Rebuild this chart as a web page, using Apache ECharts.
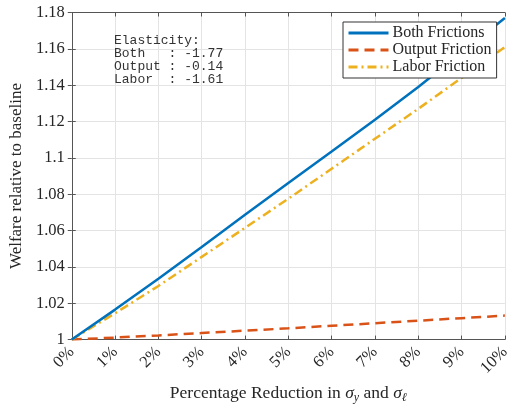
<!DOCTYPE html>
<html><head><meta charset="utf-8">
<script src="https://cdn.jsdelivr.net/npm/echarts@6/dist/echarts.min.js"></script>
<style>html,body{margin:0;padding:0;background:#fff}#c{width:513px;height:409px}</style>
</head><body><div id="c"></div>
<script>
var reductions = [0,1,2,3,4,5,6,7,8,9,10];
var bothFrictions = [1.0, 1.0165, 1.0335, 1.051, 1.0687, 1.0862, 1.1035, 1.121, 1.139, 1.158, 1.177];
var outputFriction = [1.0, 1.0011, 1.0023, 1.0036, 1.0049, 1.0062, 1.0076, 1.009, 1.0104, 1.0118, 1.0132];
var laborFriction = [1.0, 1.0145, 1.0295, 1.0455, 1.0615, 1.0775, 1.094, 1.1105, 1.127, 1.144, 1.161];
var seriesNames = ['Both Frictions','Output Friction','Labor Friction'];
var elasticityLabels = ['Both  ','Output','Labor '];
var elasticityValues = ['-1.77','-0.14','-1.61'];

function pairs(ys){ return reductions.map(function(x,i){return [x, ys[i]];}); }
var serif = '"Liberation Serif", "DejaVu Serif", serif';
var axisCol = '#555', txtCol = '#262626', gridCol = '#e4e4e4';
var elasticityText = 'Elasticity:\n' + elasticityLabels.map(function(l,i){return l + ' : ' + elasticityValues[i];}).join('\n');

var chart = echarts.init(document.getElementById('c'), null, {renderer:'canvas'});
var grid = {left:69, right:8, top:12.5, bottom:66, containLabel:false};
chart.setOption({
  backgroundColor:'#fff',
  animation:false,
  grid: grid,
  xAxis: [{
    type:'value', min:0, max:10, interval:1,
    name:'Percentage Reduction in {s|σ}{sub|y} and {s|σ}{sub|ℓ}',
    nameLocation:'middle', nameGap:34,
    nameTextStyle:{fontFamily:serif, fontSize:17.5, color:txtCol,
      rich:{s:{fontFamily:serif,fontSize:17.5,fontStyle:'italic',color:txtCol},
            sub:{fontFamily:serif,fontSize:12,fontStyle:'italic',color:txtCol,padding:[10,0,0,0]}}},
    axisLine:{show:true, lineStyle:{color:axisCol, width:1}},
    axisTick:{show:true, inside:true, length:4, lineStyle:{color:axisCol}},
    axisLabel:{formatter:'{value}%', rotate:45, fontFamily:serif, fontSize:16.5, color:txtCol, margin:10},
    splitLine:{show:true, lineStyle:{color:gridCol, width:1}}
  },{
    type:'value', min:0, max:10, interval:1, position:'top',
    axisLine:{show:true, lineStyle:{color:axisCol, width:1}},
    axisTick:{show:true, inside:true, length:4, lineStyle:{color:axisCol}},
    axisLabel:{show:false}, splitLine:{show:false}
  }],
  yAxis: [{
    type:'value', min:1, max:1.18, interval:0.02,
    name:'Welfare relative to baseline', nameLocation:'middle', nameGap:40,
    nameTextStyle:{fontFamily:serif, fontSize:17, color:txtCol},
    axisLine:{show:true, lineStyle:{color:axisCol, width:1}},
    axisTick:{show:true, inside:true, length:4, lineStyle:{color:axisCol}},
    axisLabel:{fontFamily:serif, fontSize:16.5, color:txtCol, margin:7,
      formatter:function(v){return String(Math.round(v*100)/100);}},
    splitLine:{show:true, lineStyle:{color:gridCol, width:1}}
  },{
    type:'value', min:1, max:1.18, interval:0.02, position:'right',
    axisLine:{show:true, lineStyle:{color:axisCol, width:1}},
    axisTick:{show:true, inside:true, length:4, lineStyle:{color:axisCol}},
    axisLabel:{show:false}, splitLine:{show:false}
  }],
  legend: {
    orient:'vertical', left:343, top:22,
    data: seriesNames,
    backgroundColor:'#fff', borderColor:'#333', borderWidth:1,
    padding:[3,5,3,4], itemGap:1, itemWidth:40, itemHeight:16,
    itemStyle:{opacity:0},
    lineStyle:{width:3},
    textStyle:{fontFamily:serif, fontSize:16, color:txtCol, padding:[0,0,0,-1]}
  },
  graphic: [{
    type:'text', left:114, top:34, z:10,
    style:{text:elasticityText, font:'13px "Liberation Mono", "DejaVu Sans Mono", monospace', fill:'#333', lineHeight:13}
  }],
  series: [
    {name:seriesNames[0], type:'line', data:pairs(bothFrictions), showSymbol:false, symbol:'none',
     lineStyle:{color:'#0072BD', width:2.5}, itemStyle:{color:'#0072BD'}, z:3},
    {name:seriesNames[1], type:'line', data:pairs(outputFriction), showSymbol:false, symbol:'none',
     lineStyle:{color:'#D95319', width:2.5, type:[10,6]}, itemStyle:{color:'#D95319'}, z:2},
    {name:seriesNames[2], type:'line', data:pairs(laborFriction), showSymbol:false, symbol:'none',
     lineStyle:{color:'#EDB120', width:2.5, type:[9,4,2,4]}, itemStyle:{color:'#EDB120'}, z:2}
  ]
});
</script></body></html>
